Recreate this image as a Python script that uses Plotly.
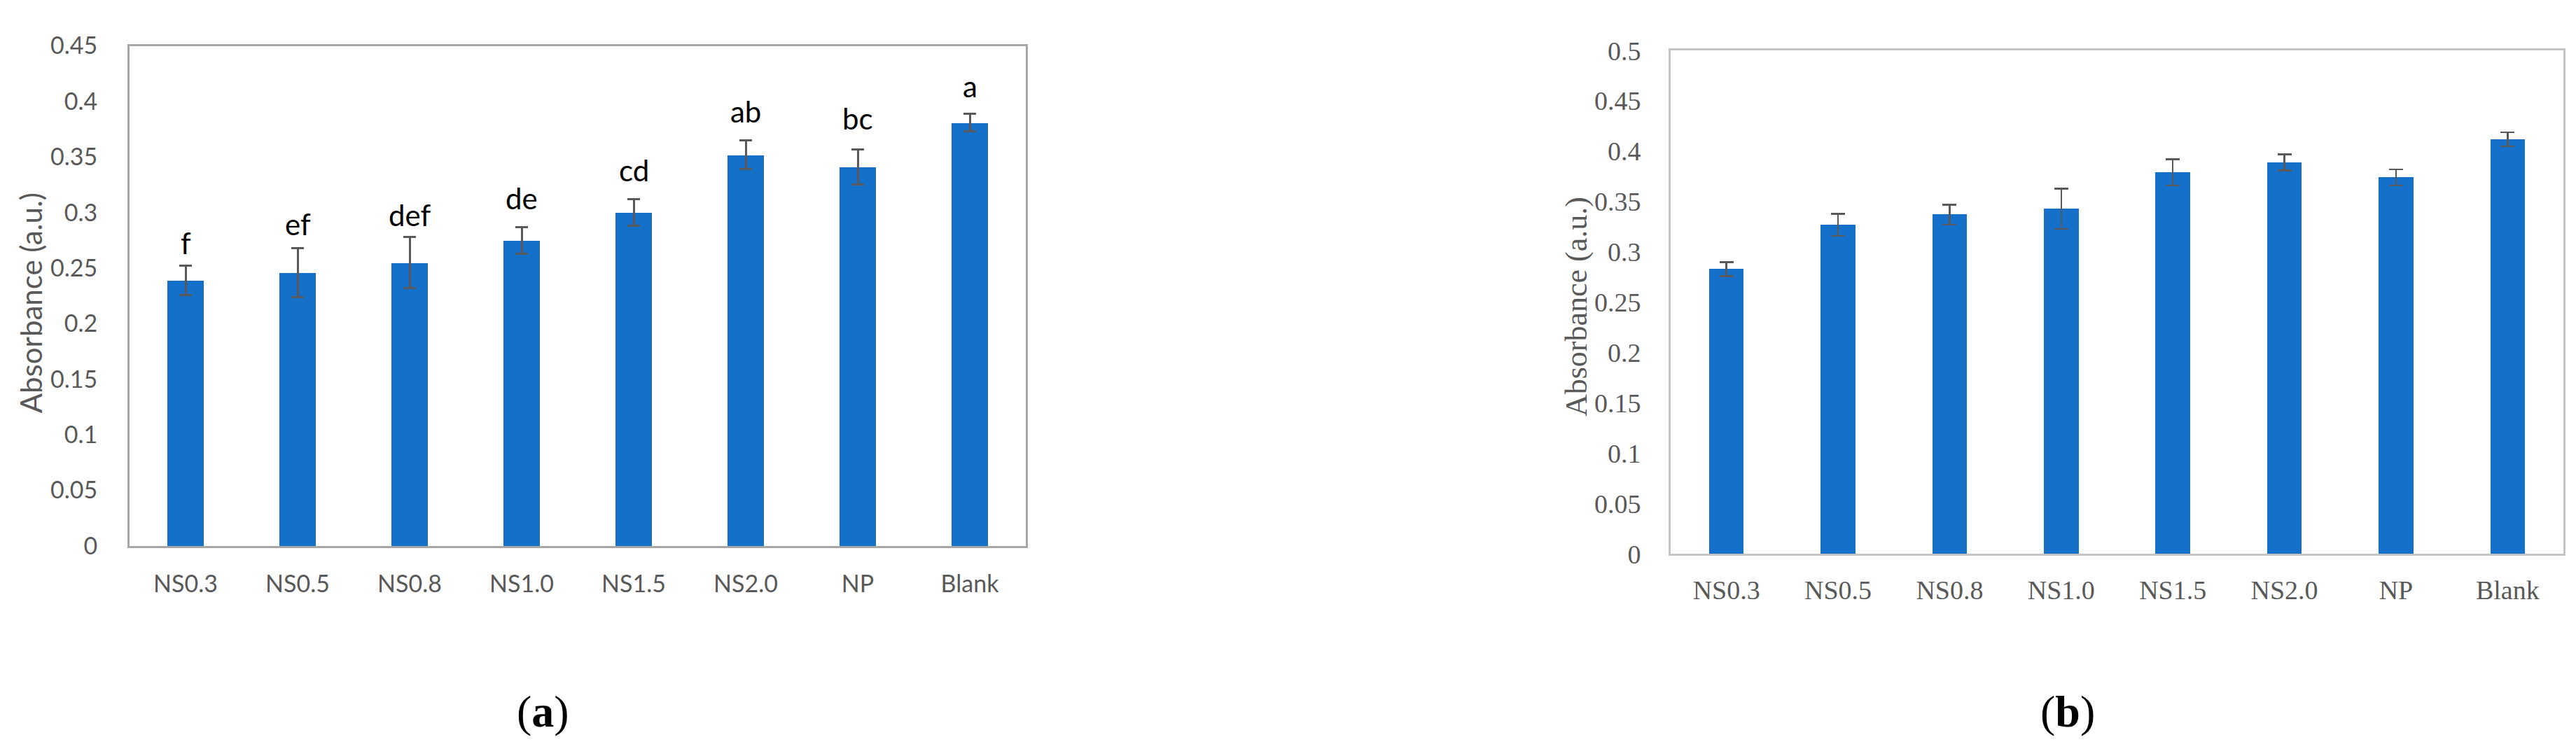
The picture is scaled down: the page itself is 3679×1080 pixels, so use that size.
import plotly.graph_objects as go

samples = ["NS0.3", "NS0.5", "NS0.8", "NS1.0", "NS1.5", "NS2.0", "NP", "Blank"]

# panel (a)
abs_a = [0.239, 0.246, 0.255, 0.275, 0.300, 0.352, 0.341, 0.381]
err_a = [0.013, 0.022, 0.023, 0.012, 0.012, 0.013, 0.016, 0.008]
letters_a = ["f", "ef", "def", "de", "cd", "ab", "bc", "a"]
letter_y_a = [0.273, 0.290, 0.298, 0.313, 0.338, 0.391, 0.385, 0.414]

# panel (b)
abs_b = [0.283, 0.327, 0.337, 0.343, 0.379, 0.389, 0.374, 0.412]
err_b = [0.007, 0.011, 0.010, 0.020, 0.013, 0.008, 0.008, 0.007]

W, H = 3679, 1080
bar_color = "rgb(21,112,201)"
err_color = "#595959"
sans = "Lato"
serif = "Liberation Serif"

fig = go.Figure()
fig.add_trace(go.Bar(
    x=samples, y=abs_a, marker_color=bar_color, marker_line_width=0, width=0.32,
    error_y=dict(type="data", array=err_a, color=err_color, thickness=3, width=9),
    xaxis="x", yaxis="y", showlegend=False))
fig.add_trace(go.Bar(
    x=samples, y=abs_b, marker_color=bar_color, marker_line_width=0, width=0.31,
    error_y=dict(type="data", array=err_b, color=err_color, thickness=2.5, width=10),
    xaxis="x2", yaxis="y2", showlegend=False))

def px_x(p):
    return p / W

def px_y(p):
    return 1 - p / H

frame_a = dict(showline=True, mirror=True, linecolor="#a6a6a6", linewidth=3, showgrid=False, zeroline=False)
frame_b = dict(showline=True, mirror=True, linecolor="#c4c4c4", linewidth=3, showgrid=False, zeroline=False)

fig.update_layout(
    width=W, height=H, margin=dict(l=0, r=0, t=0, b=0),
    paper_bgcolor="white", plot_bgcolor="white", bargap=0,
    xaxis=dict(domain=[px_x(177), px_x(1457)], anchor="y", **frame_a,
               ticks="outside", ticklen=22, tickcolor="rgba(0,0,0,0)",
               tickfont=dict(family=sans, size=34, color="#595959")),
    yaxis=dict(domain=[px_y(781), px_y(37)], anchor="x", range=[0, 0.45], dtick=0.05, **frame_a,
               ticks="outside", ticklen=36, tickcolor="rgba(0,0,0,0)", tickformat="~g",
               tickfont=dict(family=sans, size=34, color="#595959")),
    xaxis2=dict(domain=[px_x(2378), px_x(3653)], anchor="y2", **frame_b,
                ticks="outside", ticklen=16, tickcolor="rgba(0,0,0,0)",
                tickfont=dict(family=serif, size=38, color="#595959")),
    yaxis2=dict(domain=[px_y(793), px_y(44)], anchor="x2", range=[0, 0.5], dtick=0.05, **frame_b,
                ticks="outside", ticklen=32, tickcolor="rgba(0,0,0,0)", tickformat="~g",
                tickfont=dict(family=serif, size=38, color="#595959")),
)

for s, t, yv in zip(samples, letters_a, letter_y_a):
    fig.add_annotation(x=s, y=yv, xref="x", yref="y", text=t, showarrow=False,
                       font=dict(family=sans, size=42, color="black"))

def label(x, y, text, font, angle=0):
    fig.add_annotation(x=px_x(x), y=px_y(y), xref="paper", yref="paper", text=text,
                       textangle=angle, showarrow=False, xanchor="center", yanchor="middle",
                       font=font)

label(36, 420, "Absorbance (a.u.)", dict(family=sans, size=42, color="#595959"), -90)
label(2243, 425, "Absorbance (a.u.)", dict(family=serif, size=44, color="#595959"), -90)
label(767, 1027, "(<b>a</b>)", dict(family=serif, size=64, color="black"))
label(2945, 1027, "(<b>b</b>)", dict(family=serif, size=64, color="black"))

fig.write_html("out.html")
